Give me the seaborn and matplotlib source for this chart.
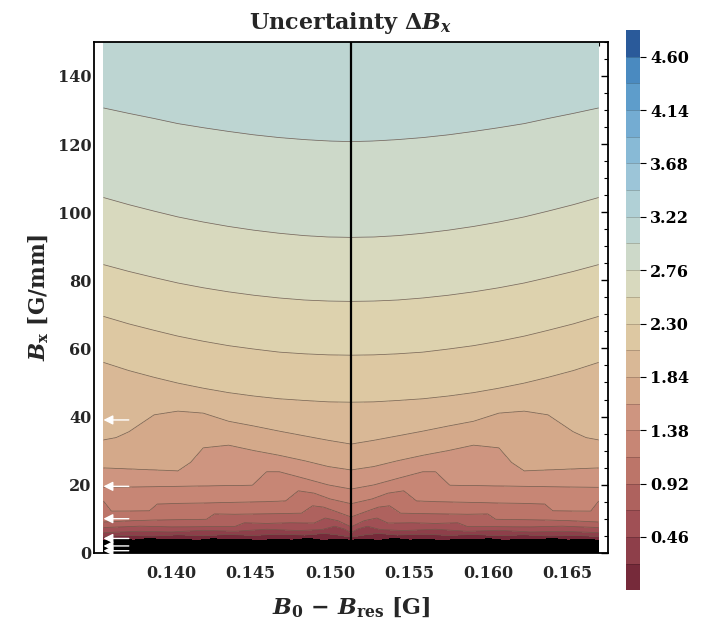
import numpy as np
import matplotlib
matplotlib.use("Agg")
import matplotlib.pyplot as plt
from matplotlib.colors import ListedColormap, BoundaryNorm
import seaborn as sns

sns.set_theme(style="white")
plt.rcParams["font.family"] = ["DejaVu Serif"]
plt.rcParams["font.weight"] = "bold"
plt.rcParams["mathtext.fontset"] = "dejavuserif"

# ---- data -------------------------------------------------------------
# contour levels of the uncertainty (step 0.23)
levels = np.round(np.arange(0, 22) * 0.23, 2)
cbar_ticks = [0.46, 0.92, 1.38, 1.84, 2.30, 2.76, 3.22, 3.68, 4.14, 4.60]
x_ticks = [0.140, 0.145, 0.150, 0.155, 0.160, 0.165]
x_tick_labels = ["0.140", "0.145", "0.150", "0.155", "0.160", "0.165"]
y_ticks = [0, 20, 40, 60, 80, 100, 120, 140]

# symmetry axis of the scan (vertical black line) and left edge of the scan
x_center = 0.15133
x_left = 0.1357

# traced level curves on the left half: (x, B_x) pairs for each level
line_0_00_x = [0.1357, 0.1366, 0.1376, 0.1386, 0.1396, 0.1406, 0.1416, 0.1426, 0.1436, 0.1446, 0.1456, 0.1466, 0.1476, 0.1486, 0.1496, 0.1506, 0.15133]
line_0_00_y = [3.6, 4.1, 3.7, 4.3, 3.8, 4.1, 3.6, 4.2, 3.8, 4.0, 3.5, 4.1, 3.7, 4.3, 3.6, 4.1, 3.6]
line_0_23_x = [0.1357, 0.1372, 0.1388, 0.1404, 0.1420, 0.1436, 0.1452, 0.1468, 0.1484, 0.1496, 0.1504, 0.15133]
line_0_23_y = [4.8, 5.1, 4.9, 5.3, 5.0, 5.4, 5.1, 5.5, 5.2, 5.7, 5.3, 4.6]
line_0_46_x = [0.1357, 0.1380, 0.1400, 0.1420, 0.1440, 0.1460, 0.1480, 0.1495, 0.1503, 0.1509, 0.15133]
line_0_46_y = [5.9, 6.3, 6.1, 6.6, 6.3, 6.9, 6.5, 6.8, 7.8, 7.0, 5.9]
line_0_69_x = [0.1357, 0.1380, 0.1400, 0.1440, 0.1446, 0.1460, 0.1475, 0.1490, 0.1497, 0.1505, 0.15133]
line_0_69_y = [7.4, 7.8, 7.6, 7.7, 8.8, 8.6, 8.8, 8.7, 10.2, 9.4, 7.6]
line_0_92_x = [0.1357, 0.1375, 0.1390, 0.1422, 0.1427, 0.1440, 0.1455, 0.1470, 0.1482, 0.1489, 0.1496, 0.1505, 0.15133]
line_0_92_y = [9.0, 9.4, 9.6, 9.8, 11.4, 11.3, 11.4, 11.5, 11.6, 13.8, 13.4, 11.9, 10.5]
line_1_15_x = [0.1357, 0.1362, 0.1386, 0.1391, 0.1405, 0.1420, 0.1440, 0.1460, 0.1472, 0.1480, 0.1490, 0.1500, 0.15133]
line_1_15_y = [15.2, 12.2, 12.3, 14.3, 14.5, 14.6, 14.8, 15.0, 15.2, 18.2, 17.5, 15.8, 14.4]
line_1_38_x = [0.1357, 0.1373, 0.1389, 0.1404, 0.1420, 0.1436, 0.1451, 0.1460, 0.1468, 0.1484, 0.1499, 0.15133]
line_1_38_y = [19.2, 19.3, 19.4, 19.5, 19.6, 19.7, 19.8, 23.8, 23.8, 21.8, 19.9, 18.7]
line_1_61_x = [0.1357, 0.1373, 0.1389, 0.1404, 0.1412, 0.1420, 0.1436, 0.1452, 0.1468, 0.1484, 0.1499, 0.15133]
line_1_61_y = [24.9, 24.6, 24.3, 24.0, 26.5, 30.8, 31.6, 30.0, 28.6, 27.0, 25.3, 24.3]
line_1_84_x = [0.1357, 0.1365, 0.1373, 0.1389, 0.1404, 0.1420, 0.1436, 0.1452, 0.1468, 0.1484, 0.1499, 0.15133]
line_1_84_y = [33.1, 33.8, 35.5, 40.5, 41.6, 41.0, 38.6, 37.2, 35.7, 34.3, 33.0, 31.9]
line_2_07_x = [0.1357, 0.1373, 0.1389, 0.1404, 0.1420, 0.1436, 0.1452, 0.1468, 0.1484, 0.1499, 0.15133]
line_2_07_y = [55.9, 53.5, 51.5, 49.8, 48.3, 47.0, 46.0, 45.2, 44.7, 44.3, 44.2]
line_2_30_x = [0.1357, 0.1373, 0.1389, 0.1404, 0.1420, 0.1436, 0.1452, 0.1468, 0.1484, 0.1499, 0.15133]
line_2_30_y = [69.4, 67.2, 65.3, 63.6, 62.1, 60.8, 59.8, 58.9, 58.4, 58.1, 58.0]
line_2_53_x = line_2_30_x
line_2_53_y = [84.6, 82.6, 80.8, 79.2, 77.8, 76.6, 75.6, 74.8, 74.2, 73.9, 73.8]
line_2_76_x = line_2_30_x
line_2_76_y = [104.3, 102.2, 100.3, 98.6, 97.1, 95.8, 94.7, 93.8, 93.1, 92.7, 92.6]
line_2_99_x = line_2_30_x
line_2_99_y = [130.6, 129.0, 127.5, 126.0, 124.8, 123.7, 122.7, 121.9, 121.3, 120.9, 120.7]

traced_x = [line_0_00_x, line_0_23_x, line_0_46_x, line_0_69_x, line_0_92_x, line_1_15_x,
            line_1_38_x, line_1_61_x, line_1_84_x, line_2_07_x, line_2_30_x, line_2_53_x,
            line_2_76_x, line_2_99_x]
traced_y = [line_0_00_y, line_0_23_y, line_0_46_y, line_0_69_y, line_0_92_y, line_1_15_y,
            line_1_38_y, line_1_61_y, line_1_84_y, line_2_07_y, line_2_30_y, line_2_53_y,
            line_2_76_y, line_2_99_y]

# marked field gradients (white arrows on the left edge)
arrow_bx = [39.0, 19.5, 10.0, 4.2, 2.0, 0.6]

# band colours of the legend, bottom to top
band_colors = ["#762a3a", "#8e3f4a", "#a05055", "#ae625e", "#bc7569", "#c78675",
               "#ce9580", "#d4a98a", "#d9b896", "#ddc8a2", "#ddd2ae", "#d8d9be",
               "#cdd9c9", "#bdd5d2", "#b0d0d6", "#9cc5d8", "#88bad6", "#74acd2",
               "#5e9dcb", "#4a8ac0", "#2a5a9a"]

# ---- field built from the traced level curves ---------------------------
xg = np.linspace(x_left, 2 * x_center - x_left, 801)
yg = np.linspace(0, 150, 1201)
xm = np.where(xg <= x_center, xg, 2 * x_center - xg)     # mirror right half
known_lv = levels[:len(traced_x)]
Z = np.empty((yg.size, xg.size))
for j, xv in enumerate(xm):
    h = np.array([np.interp(xv, tx, ty) for tx, ty in zip(traced_x, traced_y)])
    h = np.maximum.accumulate(h + np.arange(h.size) * 1e-3)
    hh = np.concatenate([[-50.0], h, [h[-1] + 40.0]])
    vv = np.concatenate([[known_lv[0] - 0.23 * 5], known_lv, [known_lv[-1] + 0.23]])
    Z[:, j] = np.interp(yg, hh, vv)

X, Y = np.meshgrid(xg, yg)

# ---- figure -------------------------------------------------------------
fig = plt.figure(figsize=(7.17, 6.26), dpi=100)
ax = fig.add_axes([0.131, 0.117, 0.717, 0.816])
cax = fig.add_axes([0.873, 0.057, 0.020, 0.895])

cmap = ListedColormap(band_colors)
norm = BoundaryNorm(levels, cmap.N)
ax.contourf(X, Y, Z, levels=levels, cmap=cmap, norm=norm)
ax.contourf(X, Y, Z, levels=[-10, 0], colors="black")
ax.contour(X, Y, Z, levels=levels[1:14], colors="#6b5548", linewidths=0.55, alpha=0.85)
ax.axvline(x_center, color="black", lw=1.6)

for b in arrow_bx:
    ax.annotate("", xy=(x_left, b), xytext=(x_left + 0.0016, b),
                arrowprops=dict(arrowstyle="-|>", color="white", lw=1.0,
                                mutation_scale=14, shrinkA=0, shrinkB=0))

ax.set_xlim(0.1351, 0.16755)
ax.set_ylim(0, 150)
ax.set_xticks(x_ticks)
ax.set_xticklabels(x_tick_labels)
ax.set_yticks(y_ticks)
ax.set_yticks(np.arange(0, 151, 5), minor=True)
ax.set_xticks(np.arange(0.1360, 0.1676, 0.001), minor=True)
ax.tick_params(axis="both", which="both", direction="in", top=True, right=True,
               labelsize=11.5, length=3, width=0.8, color="black")
ax.tick_params(axis="both", which="major", length=5, width=1.0)
ax.tick_params(axis="x", pad=9)
ax.tick_params(axis="y", pad=2)
for lab in ax.get_xticklabels() + ax.get_yticklabels():
    lab.set_fontweight("bold")
for s in ax.spines.values():
    s.set_visible(True)
    s.set_color("black")
    s.set_linewidth(1.3)

ax.set_title(r"Uncertainty $\mathbf{\Delta}\mathbfit{B}_\mathbfit{x}$",
             fontsize=16, fontweight="bold", pad=9)
ax.set_xlabel(r"$\mathbfit{B}_\mathbf{0}$ $\mathbf{-}$ $\mathbfit{B}_\mathbf{res}$ [G]",
              fontsize=16, fontweight="bold", labelpad=10)
ax.set_ylabel(r"$\mathbfit{B}_\mathbf{x}$ [G/mm]", fontsize=15.5, fontweight="bold",
              labelpad=5)

# colour legend
cax.pcolormesh([0, 1], levels, np.array(levels[:-1]).reshape(-1, 1) + 0.1,
               cmap=cmap, norm=norm, shading="flat")
cax.hlines(levels[1:-1], 0, 1, colors=(0, 0, 0, 0.22), lw=0.6)
cax.set_ylim(0, levels[-1])
cax.set_xlim(0, 1)
cax.set_xticks([])
cax.yaxis.tick_right()
cax.set_yticks(cbar_ticks)
cax.set_yticklabels([f"{t:.2f}" for t in cbar_ticks])
cax.tick_params(axis="y", length=4, width=0.8, labelsize=11.5, pad=3, colors="black",
                direction="out")
for lab in cax.get_yticklabels():
    lab.set_fontweight("bold")
for s in cax.spines.values():
    s.set_visible(False)

fig.savefig("out.png", dpi=100, facecolor="white")
